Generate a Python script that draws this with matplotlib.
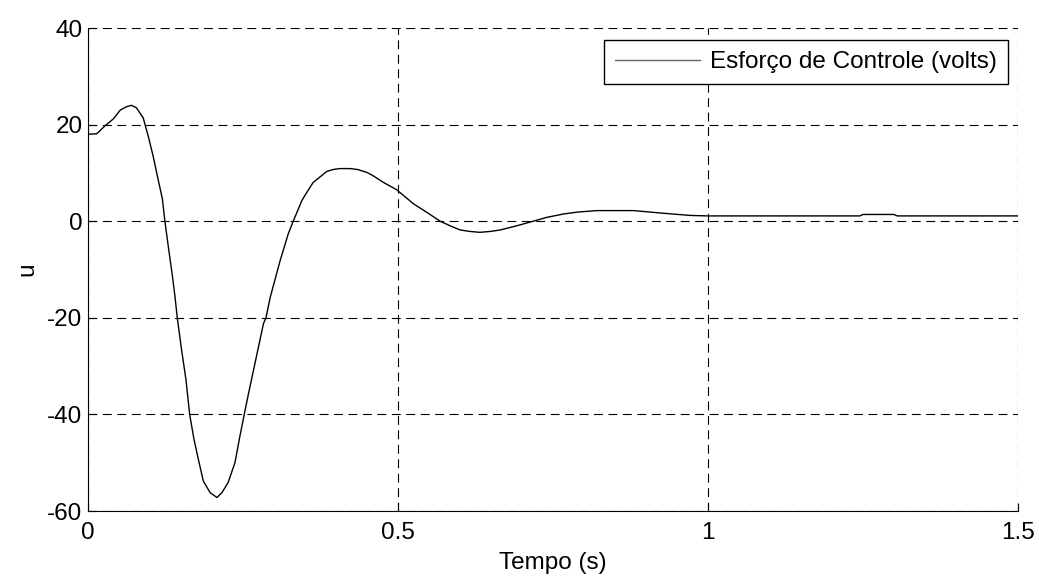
import numpy as np
import matplotlib.pyplot as plt

plt.rcParams['font.family'] = ['Liberation Sans', 'DejaVu Sans']
plt.rcParams['axes.unicode_minus'] = False

# tempo (s) e esforco de controle (volts)
t = [0.0, 0.014, 0.027, 0.041, 0.052, 0.062, 0.070, 0.078, 0.089, 0.097,
     0.105, 0.113, 0.120, 0.124, 0.130, 0.136, 0.140, 0.144, 0.151, 0.158,
     0.164, 0.171, 0.178, 0.186, 0.197, 0.208, 0.216, 0.226, 0.237, 0.245,
     0.252, 0.259, 0.267, 0.275, 0.283, 0.287, 0.294, 0.310, 0.323, 0.331,
     0.345, 0.355, 0.363, 0.385, 0.395, 0.406, 0.423, 0.435, 0.450, 0.460,
     0.477, 0.498, 0.525, 0.547, 0.568, 0.585, 0.600, 0.615, 0.632, 0.650,
     0.665, 0.690, 0.718, 0.740, 0.767, 0.790, 0.821, 0.880, 0.928, 0.971,
     1.000, 1.245, 1.250, 1.300, 1.305, 1.5]
u = [18.0, 18.1, 19.7, 21.2, 23.0, 23.7, 24.0, 23.5, 21.4, 17.7,
     13.5, 8.7, 4.6, 0.0, -5.7, -11.2, -15.3, -20.0, -26.7, -32.8,
     -40.0, -45.2, -49.3, -53.8, -56.2, -57.2, -56.2, -54.1, -50.0, -44.5,
     -40.0, -35.6, -30.8, -26.0, -21.2, -20.0, -15.7, -8.1, -2.6, 0.0,
     4.3, 6.4, 8.0, 10.3, 10.7, 10.9, 10.9, 10.7, 10.1, 9.4,
     8.0, 6.5, 3.6, 1.8, 0.0, -1.0, -1.8, -2.1, -2.3, -2.1,
     -1.8, -1.0, 0.0, 0.8, 1.5, 1.9, 2.2, 2.2, 1.65, 1.2,
     1.1, 1.1, 1.4, 1.4, 1.1, 1.1]

xticks = [0, 0.5, 1, 1.5]
xticklabels = ['0', '0.5', '1', '1.5']
yticks = [-60, -40, -20, 0, 20, 40]

fig = plt.figure(figsize=(10.39, 5.79), dpi=100)
ax = fig.add_axes([0.0847, 0.1174, 0.8951, 0.8342])

ax.plot(t, u, color='black', lw=1.0, label='Esforço de Controle (volts)')

ax.set_xlim(0, 1.5)
ax.set_ylim(-60, 40)
ax.set_xticks(xticks)
ax.set_xticklabels(xticklabels)
ax.set_yticks(yticks)

ax.grid(True, color='black', linestyle=(0, (8, 5)), lw=0.8)
ax.spines['top'].set_visible(False)
ax.spines['right'].set_visible(False)
ax.tick_params(direction='in', length=6, labelsize=17.5, pad=4)
ax.tick_params(axis='x', pad=8)

ax.set_xlabel('Tempo (s)', fontsize=17.5, labelpad=6)
ax.set_ylabel('u', fontsize=17.5, labelpad=6)

leg = ax.legend(loc='upper right', bbox_to_anchor=(0.989, 0.975), fontsize=17.5,
                fancybox=False, framealpha=1, edgecolor='black',
                handlelength=3.5, handletextpad=0.4, borderpad=0.45,
                borderaxespad=0)
leg.get_frame().set_linewidth(1.0)
leg.get_lines()[0].set_color('0.4')

fig.savefig('out.png', dpi=100)
